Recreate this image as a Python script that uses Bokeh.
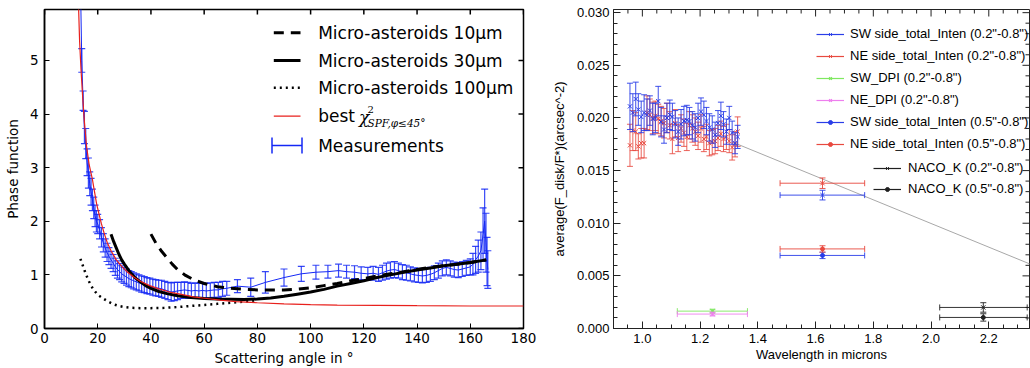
import math
from bokeh.plotting import figure
from bokeh.layouts import row
from bokeh.models import (FixedTicker, SingleIntervalTicker, NumeralTickFormatter,
                          Legend, LegendItem, Label, Arrow, TeeHead)
from bokeh.embed import file_html
from bokeh.resources import INLINE

# ---------------- left panel data ----------------
meas_angle = [13.5, 14.0, 14.5, 15.0, 15.5, 16.0, 16.5, 17.0, 17.5, 18.0, 18.5, 19.0, 19.5, 20.0,
              20.7, 21.4, 22.1, 22.8, 23.5, 24.2, 25.0, 25.8, 26.6, 27.4, 28.2, 29.0, 29.9, 30.8,
              31.7, 32.6, 33.5, 34.5, 35.5, 36.5, 37.5, 38.5, 39.6, 40.7, 41.8, 42.9, 44.0, 45.2,
              46.4, 47.6, 48.8, 50.0, 51.3, 52.6, 53.9, 55.2, 56.6, 58.0, 59.4, 60.8, 62.3, 63.8,
              65.3, 66.9, 68.5, 72.5, 77.5, 83.0, 90.0, 96.5, 102.0, 106.5, 110.5, 113.5, 116.5,
              119.0, 121.5, 123.5, 125.5, 127.0, 128.5, 130.0, 131.5, 133.0, 134.5, 136.0, 137.5,
              139.0, 140.5, 142.0, 143.5, 145.0, 146.5, 148.0, 149.5, 151.0, 152.5, 154.0, 155.5,
              157.0, 158.5, 160.0, 161.0, 162.0, 163.0, 164.0, 164.8, 165.4, 165.9, 166.3, 166.6]
meas_pf = [6.5, 5.0, 4.25, 3.75, 3.45, 3.1, 2.9, 2.7, 2.55, 2.4, 2.25, 2.1, 2.0, 1.95,
           1.85, 1.7, 1.6, 1.5, 1.42, 1.35, 1.28, 1.22, 1.15, 1.1, 1.06, 1.02, 0.99, 0.96,
           0.93, 0.91, 0.89, 0.87, 0.85, 0.83, 0.82, 0.80, 0.79, 0.77, 0.76, 0.75, 0.74, 0.72,
           0.70, 0.68, 0.69, 0.70, 0.71, 0.72, 0.71, 0.70, 0.71, 0.70, 0.71, 0.70, 0.71, 0.72,
           0.72, 0.74, 0.75, 0.79, 0.77, 0.86, 0.95, 1.02, 1.05, 1.06, 1.08, 1.06, 1.05,
           1.03, 1.02, 1.03, 1.01, 1.04, 1.07, 1.09, 1.10, 1.08, 1.05, 1.04, 1.02,
           1.00, 0.99, 0.98, 0.99, 1.01, 1.04, 1.08, 1.12, 1.14, 1.12, 1.10, 1.09,
           1.11, 1.13, 1.15, 1.20, 1.28, 1.35, 1.45, 1.75, 2.0, 1.6, 1.25, 1.1]
meas_err = [0.5, 0.22, 0.18, 0.3, 0.28, 0.25, 0.28, 0.22, 0.25, 0.2, 0.2, 0.2, 0.2, 0.18,
            0.18, 0.18, 0.17, 0.17, 0.17, 0.16, 0.16, 0.16, 0.16, 0.16, 0.15, 0.15, 0.15, 0.15,
            0.15, 0.15, 0.15, 0.15, 0.15, 0.15, 0.15, 0.15, 0.15, 0.15, 0.15, 0.15, 0.16, 0.16,
            0.16, 0.17, 0.17, 0.16, 0.15, 0.15, 0.15, 0.14, 0.14, 0.14, 0.14, 0.14, 0.14, 0.14,
            0.14, 0.14, 0.13, 0.12, 0.17, 0.2, 0.16, 0.14, 0.13, 0.12, 0.12, 0.12, 0.12,
            0.12, 0.12, 0.13, 0.13, 0.14, 0.15, 0.15, 0.15, 0.14, 0.14, 0.14, 0.13,
            0.13, 0.13, 0.13, 0.13, 0.13, 0.13, 0.14, 0.14, 0.14, 0.14, 0.14, 0.14,
            0.14, 0.14, 0.15, 0.2, 0.25, 0.3, 0.35, 0.5, 0.6, 0.55, 0.45, 0.35]

best_angle = [12.8, 13.2, 13.7, 14.3, 15.0, 15.8, 16.8, 18.0, 18.8, 19.6, 20.4, 21.4, 22.4, 23.6,
              25.0, 27.0, 29.0, 31.0, 33.5, 36.0, 39.5, 43.0, 47.0, 51.0, 56.0, 61.0, 66.0, 72.0,
              80.0, 90.0, 100.0, 110.0, 125.0, 140.0, 160.0, 180.0]
best_pf = [6.0, 5.35, 4.85, 4.35, 3.85, 3.4, 3.05, 2.78, 2.55, 2.32, 2.15, 1.95, 1.78, 1.6,
           1.45, 1.28, 1.16, 1.06, 0.96, 0.88, 0.8, 0.74, 0.68, 0.64, 0.59, 0.56, 0.53, 0.5,
           0.48, 0.46, 0.445, 0.435, 0.43, 0.425, 0.42, 0.42]

ma30_angle = [25, 26, 27, 28, 29, 30, 32, 34, 36, 38, 40, 43, 46, 50, 55, 60, 65, 70, 75, 80,
              85, 90, 95, 100, 105, 110, 115, 120, 125, 130, 135, 140, 145, 150, 155, 160, 166]
ma30_pf = [1.76, 1.62, 1.5, 1.38, 1.28, 1.2, 1.06, 0.95, 0.87, 0.8, 0.75, 0.69, 0.65, 0.61, 0.58,
           0.56, 0.55, 0.545, 0.54, 0.55, 0.57, 0.6, 0.64, 0.68, 0.73, 0.79, 0.84, 0.89, 0.95,
           1.0, 1.05, 1.09, 1.13, 1.17, 1.2, 1.23, 1.28]

ma10_angle = [40, 42, 44, 46, 48, 50, 53, 56, 60, 65, 70, 75, 80, 85, 90, 95, 100, 105, 110,
              115, 120, 125, 130, 135, 140, 145, 150, 155, 160, 166]
ma10_pf = [1.76, 1.58, 1.44, 1.32, 1.2, 1.1, 0.99, 0.91, 0.84, 0.78, 0.75, 0.73, 0.72, 0.72,
           0.72, 0.735, 0.76, 0.8, 0.84, 0.89, 0.93, 0.98, 1.02, 1.06, 1.1, 1.14, 1.17, 1.2,
           1.23, 1.28]

ma100_angle = [13.5, 14.5, 15.5, 16.5, 17.5, 18.5, 20, 22, 24, 26, 28, 30, 33, 36, 40, 45, 50,
               55, 60, 65, 70, 75, 80]
ma100_pf = [1.3, 1.16, 1.02, 0.9, 0.8, 0.72, 0.63, 0.56, 0.5, 0.45, 0.42, 0.4, 0.385, 0.38,
            0.38, 0.385, 0.4, 0.42, 0.44, 0.46, 0.48, 0.5, 0.53]

left_xticks = [0, 20, 40, 60, 80, 100, 120, 140, 160, 180]
left_yticks = [0, 1, 2, 3, 4, 5]

# ---------------- right panel data ----------------
ifs_wl = [0.957, 0.967, 0.977, 0.986, 0.996, 1.006, 1.016, 1.026, 1.036, 1.045, 1.055, 1.065,
          1.075, 1.085, 1.095, 1.104, 1.114, 1.124, 1.134, 1.144, 1.154, 1.163, 1.173, 1.183,
          1.193, 1.203, 1.213, 1.222, 1.232, 1.242, 1.252, 1.262, 1.272, 1.281, 1.291, 1.301,
          1.311, 1.321, 1.330]
sw_ifs = [0.0211, 0.0205, 0.0218, 0.0208, 0.0201, 0.0205, 0.0203, 0.0207, 0.0199, 0.0200,
          0.0216, 0.0196, 0.0189, 0.0200, 0.0203, 0.0201, 0.0194, 0.0187, 0.0194, 0.0197,
          0.0198, 0.0197, 0.0193, 0.0191, 0.0200, 0.0206, 0.0203, 0.0197, 0.0191, 0.0189,
          0.0184, 0.0195, 0.0202, 0.0194, 0.0187, 0.0200, 0.0186, 0.0176, 0.0182]
sw_ifs_err = [0.0022, 0.0018, 0.0016, 0.0015, 0.0015, 0.0017, 0.0015, 0.0014, 0.0015, 0.0014,
              0.0014, 0.0014, 0.0013, 0.0014, 0.0014, 0.0013, 0.0013, 0.0013, 0.0014, 0.0014,
              0.0014, 0.0013, 0.0013, 0.0013, 0.0014, 0.0013, 0.0013, 0.0013, 0.0013, 0.0013,
              0.0012, 0.0012, 0.0013, 0.0012, 0.0012, 0.0011, 0.0011, 0.0010, 0.0011]
ne_ifs = [0.0174, 0.0188, 0.0187, 0.0173, 0.0176, 0.0176, 0.0205, 0.0203, 0.0200, 0.0202,
          0.0199, 0.0197, 0.0195, 0.0200, 0.0193, 0.0180, 0.0195, 0.0181, 0.0190, 0.0186,
          0.0182, 0.0193, 0.0190, 0.0187, 0.0183, 0.0190, 0.0180, 0.0182, 0.0176, 0.0177,
          0.0178, 0.0181, 0.0185, 0.0180, 0.0182, 0.0178, 0.0172, 0.0175, 0.0187]
ne_ifs_err = [0.0020, 0.0019, 0.0018, 0.0012, 0.0014, 0.0014, 0.0016, 0.0015, 0.0015, 0.0014,
              0.0014, 0.0014, 0.0014, 0.0014, 0.0013, 0.0014, 0.0013, 0.0013, 0.0013, 0.0013,
              0.0013, 0.0013, 0.0013, 0.0013, 0.0013, 0.0013, 0.0012, 0.0012, 0.0012, 0.0012,
              0.0012, 0.0012, 0.0012, 0.0012, 0.0012, 0.0011, 0.0012, 0.0012, 0.0014]

h_wl, h_lo, h_hi = 1.624, 1.477, 1.770
sw_h_02, sw_h_02_err = 0.01267, 0.00046
ne_h_02, ne_h_02_err = 0.01380, 0.00050
sw_h_05, sw_h_05_err = 0.00694, 0.00030
ne_h_05, ne_h_05_err = 0.00756, 0.00030
dpi_wl, dpi_lo, dpi_hi = 1.243, 1.121, 1.364
sw_dpi, sw_dpi_err = 0.00165, 0.00018
ne_dpi, ne_dpi_err = 0.00137, 0.00018
k_wl, k_lo, k_hi = 2.181, 2.030, 2.333
naco_02, naco_02_err = 0.00200, 0.00045
naco_05, naco_05_err = 0.00105, 0.00035
trend_wl = [1.3215, 2.36]
trend_flux = [0.0176, 0.00593]

right_xmajor = [1.0, 1.2, 1.4, 1.6, 1.8, 2.0, 2.2]
right_xminor = [round(0.9 + 0.05 * i, 3) for i in range(30) if i % 4 != 2]
right_ymajor = [0.0, 0.005, 0.010, 0.015, 0.020, 0.025, 0.030]
right_yminor = [round(0.001 * i, 4) for i in range(31) if i % 5 != 0]

# ---------------- left panel ----------------
BLUE = "#1428f5"
RED = "#e8201c"
p1 = figure(width=540, height=368, x_range=(0, 180), y_range=(0, 5.95),
            output_backend="svg", toolbar_location=None,
            min_border_left=44, min_border_right=17, min_border_top=9, min_border_bottom=40)
p1.grid.visible = False
p1.outline_line_color = "black"
p1.outline_line_width = 1.5

for ax, ticks in ((p1.xaxis[0], left_xticks), (p1.yaxis[0], left_yticks)):
    ax.ticker = FixedTicker(ticks=ticks)
    ax.major_tick_in = 5
    ax.major_tick_out = 0
    ax.minor_tick_in = 0
    ax.minor_tick_out = 0
    ax.axis_line_color = "black"
    ax.axis_line_width = 1.5
    ax.major_tick_line_color = "black"
    ax.major_label_text_font = "DejaVu Sans"
    ax.major_label_text_font_size = "13.5px"
    ax.major_label_text_color = "black"
    ax.axis_label_text_font = "DejaVu Sans"
    ax.axis_label_text_font_style = "normal"
    ax.axis_label_text_font_size = "13.5px"
    ax.axis_label_text_color = "black"
p1.xaxis[0].axis_label = "Scattering angle in °"
p1.yaxis[0].axis_label = "Phase function"
p1.xaxis[0].major_label_standoff = 4
p1.xaxis[0].axis_label_standoff = 4
p1.yaxis[0].major_label_standoff = 6
p1.yaxis[0].axis_label_standoff = 6

# inward ticks on the top and right spines
p1.scatter(x=left_xticks, y=[p1.y_range.end] * len(left_xticks), marker="dash", angle=math.pi / 2,
           size=10, line_color="black", line_width=1.5)
p1.scatter(x=[p1.x_range.end] * len(left_yticks), y=left_yticks, marker="dash",
           size=10, line_color="black", line_width=1.5)

lo = [v - e for v, e in zip(meas_pf, meas_err)]
hi = [v + e for v, e in zip(meas_pf, meas_err)]
p1.segment(x0=meas_angle, y0=lo, x1=meas_angle, y1=hi, line_color=BLUE, line_width=1.2, line_alpha=0.85)
p1.scatter(x=meas_angle, y=lo, marker="dash", size=7, line_color=BLUE, line_width=1.2, line_alpha=0.85)
p1.scatter(x=meas_angle, y=hi, marker="dash", size=7, line_color=BLUE, line_width=1.2, line_alpha=0.85)
p1.line(meas_angle, meas_pf, line_color=BLUE, line_width=1)
p1.line(ma10_angle, ma10_pf, line_color="black", line_width=3, line_dash="10 7")
p1.line(ma30_angle, ma30_pf, line_color="black", line_width=3)
p1.line(ma100_angle, ma100_pf, line_color="black", line_width=2.5, line_dash="2 4")
p1.line(best_angle, best_pf, line_color=RED, line_width=1.2)

# matplotlib-like legend (screen coords relative to the frame)
rows = [295.7, 268.0, 240.7, 212.3, 183.0]
hx0, hx1, tx = 229.3, 256.0, 273.7
handles = [dict(line_width=3, line_dash="10 7", line_color="black"),
           dict(line_width=3, line_color="black"),
           dict(line_width=2.5, line_dash="2 4", line_color="black"),
           dict(line_width=1.2, line_color=RED)]
for ry, kw in zip(rows[:4], handles):
    p1.add_layout(Arrow(x_start=hx0, y_start=ry, x_end=hx1, y_end=ry, start_units="screen",
                        end_units="screen", start=None, end=None, **kw))
p1.add_layout(Arrow(x_start=227.5, y_start=rows[4], x_end=257.5, y_end=rows[4], start_units="screen",
                    end_units="screen",
                    start=TeeHead(size=16, line_color=BLUE, line_width=1.5),
                    end=TeeHead(size=16, line_color=BLUE, line_width=1.5),
                    line_width=1.5, line_color=BLUE))
for txt, ry in [("Micro-asteroids 10μm", rows[0]), ("Micro-asteroids 30μm", rows[1]),
                ("Micro-asteroids 100μm", rows[2]), ("best", rows[3]), ("Measurements", rows[4])]:
    p1.add_layout(Label(x=tx, y=ry, x_units="screen", y_units="screen", text=txt,
                        text_font="DejaVu Sans", text_font_size="17px", text_color="black",
                        text_baseline="middle", text_align="left"))
p1.add_layout(Label(x=314.5, y=rows[3] - 1, x_units="screen", y_units="screen", text="χ",
                    text_font="DejaVu Serif", text_font_style="italic", text_font_size="17px",
                    text_baseline="middle", text_align="left", text_color="black"))
p1.add_layout(Label(x=323, y=rows[3] + 7, x_units="screen", y_units="screen", text="2",
                    text_font="DejaVu Serif", text_font_size="10px",
                    text_baseline="middle", text_align="left", text_color="black"))
p1.add_layout(Label(x=323, y=rows[3] - 7, x_units="screen", y_units="screen", text="SPF,φ≤45°",
                    text_font="DejaVu Serif", text_font_style="italic", text_font_size="10.5px",
                    text_baseline="middle", text_align="left", text_color="black"))

# ---------------- right panel ----------------
RB = "#2a3ee8"
RR = "#e8493f"
RG = "#7fe860"
RP = "#ee7fee"
RK = "#202020"
FR = "#222222"

p2 = figure(width=490, height=368, x_range=(0.9, 2.341), y_range=(0, 0.0303),
            output_backend="svg", toolbar_location=None,
            min_border_left=73, min_border_right=1, min_border_top=7, min_border_bottom=35)
p2.grid.visible = False
p2.outline_line_color = FR
p2.outline_line_width = 1

for ax, tk in ((p2.xaxis[0], SingleIntervalTicker(interval=0.2, num_minor_ticks=4)),
               (p2.yaxis[0], SingleIntervalTicker(interval=0.005, num_minor_ticks=5))):
    ax.ticker = tk
    ax.major_tick_in = 7
    ax.major_tick_out = 0
    ax.minor_tick_in = 4
    ax.minor_tick_out = 0
    ax.axis_line_color = FR
    ax.major_tick_line_color = FR
    ax.minor_tick_line_color = FR
    ax.major_label_text_font = "Liberation Sans"
    ax.major_label_text_font_size = "13px"
    ax.major_label_text_color = "black"
    ax.axis_label_text_font = "Liberation Sans"
    ax.axis_label_text_font_style = "normal"
    ax.axis_label_text_font_size = "13px"
    ax.axis_label_text_color = "black"
p2.xaxis[0].formatter = NumeralTickFormatter(format="0.0")
p2.yaxis[0].formatter = NumeralTickFormatter(format="0.000")
p2.xaxis[0].axis_label = "Wavelength in microns"
p2.yaxis[0].axis_label = "average(F_disk/F*)(arcsec^-2)"
p2.xaxis[0].major_label_standoff = 5
p2.xaxis[0].axis_label_standoff = 1
p2.yaxis[0].major_label_standoff = 4
p2.yaxis[0].axis_label_standoff = 7

# inward ticks on top and right spines
ytop = p2.y_range.end
xright = p2.x_range.end
p2.scatter(x=right_xmajor, y=[ytop] * len(right_xmajor), marker="dash", angle=math.pi / 2,
           size=14, line_color=FR, line_width=1)
p2.scatter(x=right_xminor, y=[ytop] * len(right_xminor), marker="dash", angle=math.pi / 2,
           size=8, line_color=FR, line_width=1)
p2.scatter(x=[xright] * len(right_ymajor), y=right_ymajor, marker="dash",
           size=14, line_color=FR, line_width=1)
p2.scatter(x=[xright] * len(right_yminor), y=right_yminor, marker="dash",
           size=8, line_color=FR, line_width=1)

p2.line(trend_wl, trend_flux, line_color="#a8a8a8", line_width=1)

def yerr(p, x, y, e, color, alpha=0.9):
    lo = [v - d for v, d in zip(y, e)]
    hi = [v + d for v, d in zip(y, e)]
    p.segment(x0=x, y0=lo, x1=x, y1=hi, line_color=color, line_width=1, line_alpha=alpha)
    p.scatter(x=x, y=lo, marker="dash", size=6, line_color=color, line_width=1, line_alpha=alpha)
    p.scatter(x=x, y=hi, marker="dash", size=6, line_color=color, line_width=1, line_alpha=alpha)

def xerr(p, lo, hi, y, color, alpha=0.9):
    p.segment(x0=[lo], y0=[y], x1=[hi], y1=[y], line_color=color, line_width=1, line_alpha=alpha)
    p.scatter(x=[lo, hi], y=[y, y], marker="dash", angle=math.pi / 2, size=6,
              line_color=color, line_width=1, line_alpha=alpha)

# NE then SW (0.2-0.8)
yerr(p2, ifs_wl, ne_ifs, ne_ifs_err, RR, 0.85)
yerr(p2, [h_wl], [ne_h_02], [ne_h_02_err], RR)
xerr(p2, h_lo, h_hi, ne_h_02, RR)
r_ne = p2.scatter(x=ifs_wl + [h_wl], y=ne_ifs + [ne_h_02], marker="x", size=6, line_color=RR, line_width=1)
yerr(p2, ifs_wl, sw_ifs, sw_ifs_err, RB)
yerr(p2, [h_wl], [sw_h_02], [sw_h_02_err], RB)
xerr(p2, h_lo, h_hi, sw_h_02, RB)
r_sw = p2.scatter(x=ifs_wl + [h_wl], y=sw_ifs + [sw_h_02], marker="x", size=6, line_color=RB, line_width=1)
# DPI
yerr(p2, [dpi_wl], [sw_dpi], [sw_dpi_err], RG)
xerr(p2, dpi_lo, dpi_hi, sw_dpi, RG)
r_swd = p2.scatter(x=[dpi_wl], y=[sw_dpi], marker="x", size=6, line_color=RG, line_width=1.2)
yerr(p2, [dpi_wl], [ne_dpi], [ne_dpi_err], RP)
xerr(p2, dpi_lo, dpi_hi, ne_dpi, RP)
r_ned = p2.scatter(x=[dpi_wl], y=[ne_dpi], marker="x", size=6, line_color=RP, line_width=1.2)
# 0.5-0.8
yerr(p2, [h_wl], [sw_h_05], [sw_h_05_err], RB)
xerr(p2, h_lo, h_hi, sw_h_05, RB)
r_sw5 = p2.scatter(x=[h_wl], y=[sw_h_05], marker="circle", size=4, line_color=RB, fill_color=RB)
yerr(p2, [h_wl], [ne_h_05], [ne_h_05_err], RR)
xerr(p2, h_lo, h_hi, ne_h_05, RR)
r_ne5 = p2.scatter(x=[h_wl], y=[ne_h_05], marker="circle", size=4, line_color=RR, fill_color=RR)
# NACO
yerr(p2, [k_wl], [naco_02], [naco_02_err], RK)
xerr(p2, k_lo, k_hi, naco_02, RK)
r_k2 = p2.scatter(x=[k_wl], y=[naco_02], marker="x", size=6, line_color=RK, line_width=1)
yerr(p2, [k_wl], [naco_05], [naco_05_err], RK)
xerr(p2, k_lo, k_hi, naco_05, RK)
r_k5 = p2.scatter(x=[k_wl], y=[naco_05], marker="circle", size=4, line_color=RK, fill_color=RK)

def leg_line(color, x, y):
    # single-point line: draws nothing in the plot, only provides the legend stroke
    return p2.line(x=[x], y=[y], line_color=color, line_width=1.2)

items1 = [
    LegendItem(label='SW side_total_Inten (0.2"-0.8")', renderers=[leg_line(RB, h_wl, sw_h_02), r_sw]),
    LegendItem(label='NE side_total_Inten (0.2"-0.8")', renderers=[leg_line(RR, h_wl, ne_h_02), r_ne]),
    LegendItem(label='SW_DPI (0.2"-0.8")', renderers=[leg_line(RG, dpi_wl, sw_dpi), r_swd]),
    LegendItem(label='NE_DPI (0.2"-0.8")', renderers=[leg_line(RP, dpi_wl, ne_dpi), r_ned]),
    LegendItem(label='SW side_total_Inten (0.5"-0.8")', renderers=[leg_line(RB, h_wl, sw_h_05), r_sw5]),
    LegendItem(label='NE side_total_Inten (0.5"-0.8")', renderers=[leg_line(RR, h_wl, ne_h_05), r_ne5]),
]
items2 = [
    LegendItem(label='NACO_K (0.2"-0.8")', renderers=[leg_line(RK, k_wl, naco_02), r_k2]),
    LegendItem(label='NACO_K (0.5"-0.8")', renderers=[leg_line(RK, k_wl, naco_05), r_k5]),
]

def mk_legend(items, loc, standoff, spacing):
    return Legend(items=items, location=loc, padding=0, margin=0, border_line_alpha=0,
                  background_fill_alpha=0, glyph_width=28, glyph_height=10, label_height=10,
                  spacing=spacing, label_standoff=standoff, label_text_font="Liberation Sans",
                  label_text_font_size="13px", label_text_color="black")

p2.add_layout(mk_legend(items1, (203, 177), 6, 7), "center")
p2.add_layout(mk_legend(items2, (260, 132), 7, 6), "center")

layout = row(p1, p2)
open("out.html", "w").write(file_html(layout, INLINE))
